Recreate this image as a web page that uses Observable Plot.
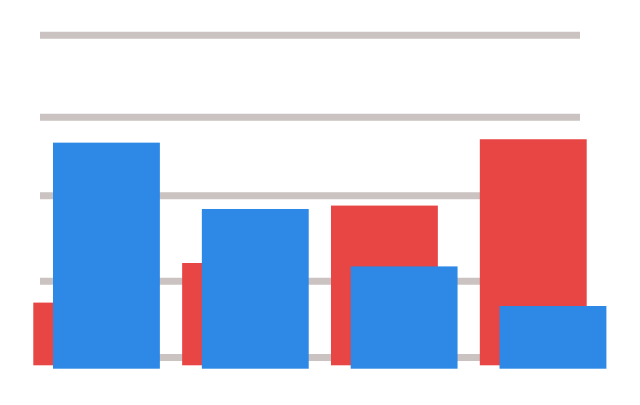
<!DOCTYPE html>
<html>
<head>
<meta charset="utf-8">
<script src="https://cdn.jsdelivr.net/npm/d3@7"></script>
<script src="https://cdn.jsdelivr.net/npm/@observablehq/plot@0.6"></script>
<style>
  html, body { margin: 0; padding: 0; background: #fff; }
  #chart svg { display: block; }
</style>
</head>
<body>
<div id="chart"></div>
<script>
const categories = ["A", "B", "C", "D"];
const redValues = [19, 31, 48.4, 68.5];
const blueValues = [68.5, 48.4, 31, 19];
const gridValues = [2.5, 25.6, 51.5, 75.3, 100.2];

const red = categories.map((c, i) => ({category: c, value: redValues[i]}));
const blue = categories.map((c, i) => ({category: c, value: blueValues[i]}));

const chart = Plot.plot({
  width: 640,
  height: 405,
  marginLeft: 40,
  marginRight: 60,
  marginTop: 20,
  marginBottom: 20,
  style: {background: "#fff"},
  x: {type: "band", domain: categories, range: [33.3, 586.7], paddingInner: 0.282, paddingOuter: 0, round: false, axis: null},
  y: {domain: [0, 100], range: [365.3, 35.3], axis: null},
  marks: [
    Plot.ruleY(gridValues, {stroke: "#cac3c1", strokeWidth: 7}),
    Plot.barY(red, {x: "category", y: "value", fill: "#e84545"}),
    Plot.barY(blue, {x: "category", y: "value", fill: "#2d89e5", dx: 19.7, dy: 3.4})
  ]
});
document.getElementById("chart").appendChild(chart);
</script>
</body>
</html>
